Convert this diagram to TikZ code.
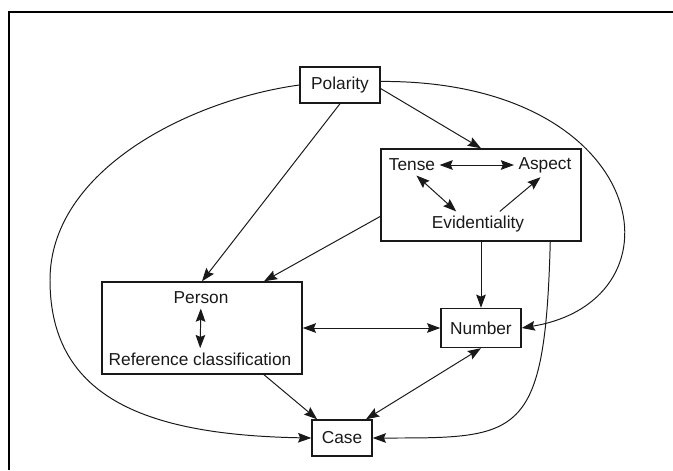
\documentclass[tikz,border=0pt]{standalone}
\usepackage{fontspec}
\setmainfont{Liberation Sans}
\usetikzlibrary{arrows.meta}

\begin{document}
\begin{tikzpicture}[x=0.025cm, y=-0.025cm,
  every node/.style={font=\fontsize{12.3}{14}\selectfont, text=black!90, inner sep=3pt},
  box/.style={draw=black!90, line width=1pt},
  arr/.style={draw=black!90, line width=0.7pt, -{Stealth[length=3.3mm,width=2.4mm,inset=0.5mm]}},
  dbl/.style={arr, {Stealth[length=3.3mm,width=2.4mm,inset=0.5mm]}-{Stealth[length=3.3mm,width=2.4mm,inset=0.5mm]}}]
  \useasboundingbox (0,0) rectangle (673,470);
  \draw[line width=1.4pt] (9,470) -- (9,12) -- (673,12);

  \node (pol) [box, minimum width=2cm, minimum height=0.9cm] at (340,85) {Polarity};
  \node (tambox) [box, minimum width=5cm, minimum height=2.3cm] at (481,195) {};
  \node (tense) at (412,165) {Tense};
  \node (aspect) at (545,165) {Aspect};
  \node (evid) at (478,224) {Evidentiality};
  \node (persbox) [box, minimum width=5cm, minimum height=2.3cm] at (202,328) {};
  \node (person) at (201,298) {Person};
  \node (refcl) at (200,359) {Reference classification};
  \node (number) [box, minimum width=2cm, minimum height=0.975cm] at (481,328) {Number};
  \node (case) [box, minimum width=1.5cm, minimum height=0.9cm] at (342,438) {Case};

  \draw[arr] (pol.south) -- (persbox.north);
  \draw[arr] (pol.355) -- (tambox.north);
  \draw[arr] (pol.5) .. controls (650,80) and (690,300) .. (number.east);
  \draw[arr] (pol.west) .. controls (190,100) and (50,170) .. (50,280) .. controls (50,400) and (150,435) .. (case.west);
  \draw[arr] (tambox.192) -- (persbox.37);
  \draw[arr] (tambox.south) -- (number.north);
  \draw[arr] (tambox.326) .. controls (545,440) and (520,438) .. (case.east);
  \draw[dbl] (persbox.east) -- (number.west);
  \draw[dbl] (number.south) -- (case.38);
  \draw[arr] (persbox.323) -- (case.143);
  \draw[dbl] (tense) -- (aspect);
  \draw[dbl] (tense.293) -- (evid.150);
  \draw[arr] (evid.30) -- (aspect.250);
  \draw[dbl] (person) -- (refcl);
\end{tikzpicture}
\end{document}
